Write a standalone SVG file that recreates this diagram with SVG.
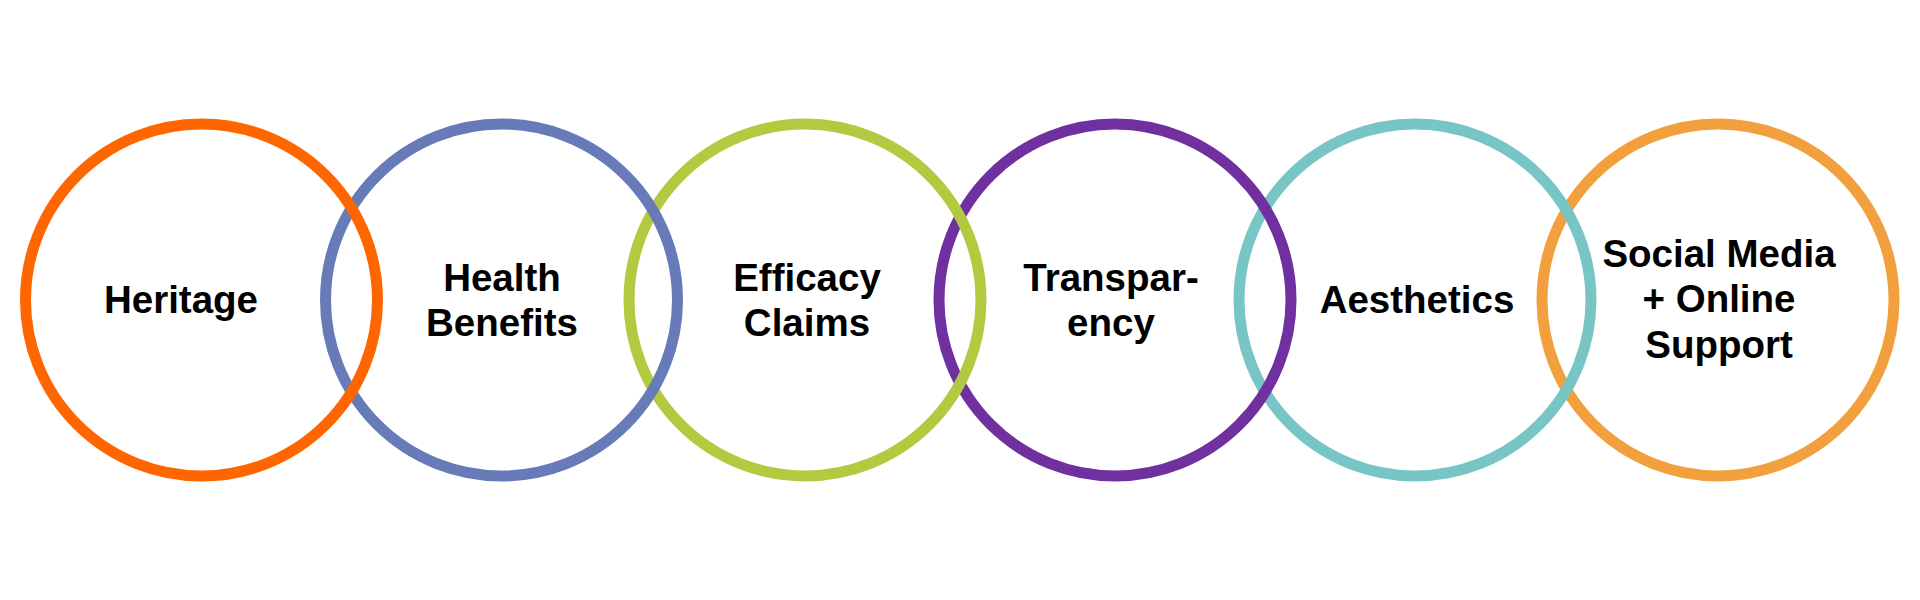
<svg xmlns="http://www.w3.org/2000/svg" width="1920" height="600" viewBox="0 0 1920 600">
<style>
.ring{fill:none;stroke-width:11}
.lbl{font-family:"Liberation Sans",Arial,sans-serif;font-weight:bold;font-size:38.5px;fill:#000;text-anchor:middle}
</style>
<rect width="1920" height="600" fill="#fff"/>
<g id="connectors"></g>
<g id="n6"><circle class="ring" cx="1718" cy="300" r="176" stroke="#F2A03D"/><text class="lbl" x="1719" y="267">Social Media</text><text class="lbl" x="1719" y="312">+ Online</text><text class="lbl" x="1719" y="358">Support</text></g>
<g id="n5"><circle class="ring" cx="1415" cy="300" r="176" stroke="#77C5C5"/><text class="lbl" x="1417" y="313">Aesthetics</text></g>
<g id="n4"><circle class="ring" cx="1115" cy="300" r="176" stroke="#7030A0"/><text class="lbl" x="1111" y="291">Transpar-</text><text class="lbl" x="1111" y="336">ency</text></g>
<g id="n3"><circle class="ring" cx="805" cy="300" r="176" stroke="#B3C940"/><text class="lbl" x="807" y="291">Efficacy</text><text class="lbl" x="807" y="336">Claims</text></g>
<g id="n2"><circle class="ring" cx="501.5" cy="300" r="176" stroke="#667BB8"/><text class="lbl" x="502" y="291">Health</text><text class="lbl" x="502" y="336">Benefits</text></g>
<g id="n1"><circle class="ring" cx="201.5" cy="300" r="176" stroke="#FF6600"/><text class="lbl" x="181" y="313">Heritage</text></g>
</svg>
